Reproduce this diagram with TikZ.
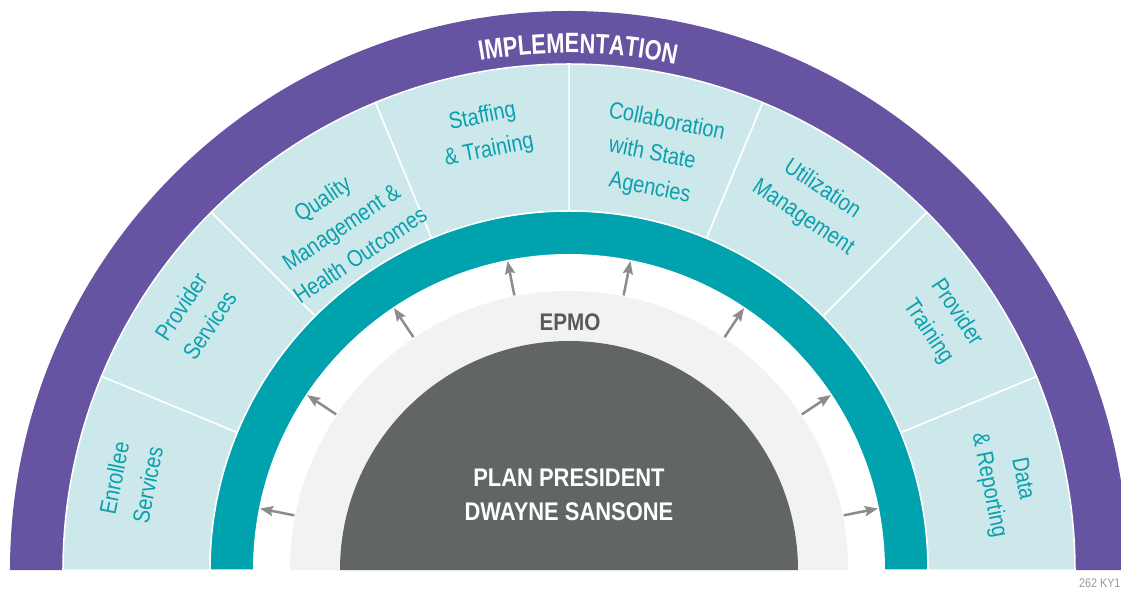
\documentclass[tikz,border=0pt]{standalone}
\usepackage{fontspec}
\setmainfont{Liberation Sans}
\newfontfamily\nfont[FakeStretch=0.85]{Liberation Sans}
\newfontfamily\cfont[FakeStretch=0.86]{Liberation Sans}
\newfontfamily\ifont[FakeStretch=0.78]{Liberation Sans}
\usetikzlibrary{decorations.text, arrows.meta}
\definecolor{purp}{HTML}{6653A1}
\definecolor{lcyan}{HTML}{CCE8EB}
\definecolor{tealring}{HTML}{00A2AE}
\definecolor{lgray}{HTML}{F2F2F2}
\definecolor{dgray}{HTML}{616566}
\definecolor{arrowgray}{HTML}{8A8C8E}
\definecolor{tealtxt}{HTML}{0AA0AD}
\definecolor{epmogray}{HTML}{58595B}
\definecolor{notegray}{HTML}{9A9A9A}
\tikzset{
  sect/.style={text=tealtxt, font=\nfont\fontsize{23.5}{34}\selectfont, align=center, inner sep=0pt},
  epmoarrow/.style={draw=arrowgray, line width=2.5pt, -{Stealth[length=13pt, width=10pt, inset=2pt]}},
  sectorbox/.style={fill=lcyan, draw=white, line width=1.5pt}
}
\begin{document}
\begin{tikzpicture}[x=1pt,y=1pt]
\useasboundingbox (-569,-19) rectangle (552,570);
\clip (-569,-19) rectangle (552,570);
% outer purple band
\fill[purp] (559,0) arc[start angle=0,end angle=180,radius=559] -- cycle;
% sectors
\foreach \i in {0,...,7} {
  \pgfmathsetmacro\a{22.5*\i}
  \pgfmathsetmacro\b{22.5*(\i+1)}
  \path[sectorbox] (\a:359) -- (\a:506) arc[start angle=\a, end angle=\b, radius=506] -- (\b:359) arc[start angle=\b, end angle=\a, radius=359] -- cycle;
}
% teal ring
\filldraw[fill=tealring, draw=white, line width=1.5pt] (359,0) arc[start angle=0,end angle=180,radius=359] -- cycle;
\fill[white] (316,0) arc[start angle=0,end angle=180,radius=316] -- cycle;
% EPMO band
\fill[lgray] (279,0) arc[start angle=0,end angle=180,radius=279] -- cycle;
% president
\fill[dgray] (229,0) arc[start angle=0,end angle=180,radius=229] -- cycle;
% IMPLEMENTATION
\path[decorate, decoration={text along path, text={|\ifont\bfseries\fontsize{28}{30}\selectfont|IMPLEMENTATION}, text align=center, text color=white}]
  (104:517) arc[start angle=104, end angle=74, radius=517];
% arrows
\foreach \k in {0,...,7} {
  \pgfmathsetmacro\t{11.25+22.5*\k}
  \coordinate (as\k) at (\t:280);
  \coordinate (ae\k) at (\t:315);
  \draw[epmoarrow] (as\k) -- (ae\k);
}
% sector labels
\node[sect, rotate=78.75] (enr) at (168.6:447) {Enrollee\\Services};
\node[sect, rotate=56.25] (prs) at (145.8:452) {Provider\\Services};
\node[sect, rotate=33.75] (qual) at (123.6:412) {Quality\\Management \&\\Health Outcomes};
\node[sect, rotate=11.25] (staff) at (100.8:444) {Staffing\\\& Training};
\node[sect, rotate=-11.25, align=left] (coll) at (77.6:424) {Collaboration\\\hspace*{7pt}with State\\\hspace*{14pt}Agencies};
\node[sect, rotate=-33.75] (util) at (56.4:440) {Utilization\\Management};
\node[sect, rotate=-56.25] (prt) at (33.6:448) {Provider\\Training};
\node[sect, rotate=-78.75] (data) at (11.4:445) {Data\\\& Reporting};
% center labels
\node[text=epmogray, font=\cfont\bfseries\fontsize{24}{28}\selectfont, anchor=base, inner sep=0pt] (epmo) at (1,239) {EPMO};
\node[text=white, font=\cfont\bfseries\fontsize{25.5}{34}\selectfont, align=center, inner sep=0pt] (pres) at (0,75) {PLAN PRESIDENT\\DWAYNE SANSONE};
\node[text=notegray, font=\cfont\fontsize{12.5}{14}\selectfont, anchor=base west, inner sep=0pt] (note) at (510,-17) {262 KY1};
\end{tikzpicture}
\end{document}
